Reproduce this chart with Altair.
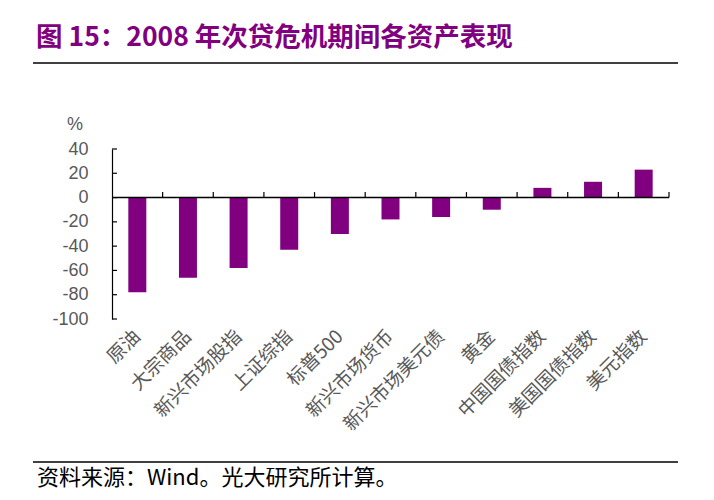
import altair as alt
import pandas as pd

categories = ["原油", "大宗商品", "新兴市场股指", "上证综指", "标普500", "新兴市场货币",
              "新兴市场美元债", "黄金", "中国国债指数", "美国国债指数", "美元指数"]
values = [-78, -66, -58, -43, -30, -18, -16, -10, 8, 13, 23]
y_ticks = [-100, -80, -60, -40, -20, 0, 20, 40]
title_text = "图 15：2008 年次贷危机期间各资产表现"
source_text = "资料来源：Wind。光大研究所计算。"
unit_text = "%"

PURPLE = "#800080"
GREY = "#595959"
W, H = 557, 170

df = pd.DataFrame({"cat": categories, "val": values})
xscale = alt.Scale(domain=categories, paddingInner=0, paddingOuter=0)
yscale = alt.Scale(domain=[-100, 40], nice=False, zero=False)

xaxis = alt.Axis(title=None, domain=False, ticks=False, labelAngle=-45,
                 labelAlign="right", labelBaseline="middle",
                 labelPadding=14, labelFontSize=19, labelColor=GREY,
                 labelFont="Noto Sans CJK SC", labelLimit=300)
yaxis = alt.Axis(title=None, values=y_ticks, domain=True, domainColor="black",
                 domainWidth=1.2, ticks=False, grid=False, labelPadding=24,
                 labelOverlap=False, labelFontSize=18, labelColor=GREY,
                 labelFont="Liberation Sans", labelExpr="datum.value + ''")

bars = alt.Chart(df).mark_bar(color=PURPLE, width=18).encode(
    x=alt.X("cat:N", scale=xscale, sort=categories, axis=xaxis),
    y=alt.Y("val:Q", scale=yscale, axis=yaxis),
)

zero_line = alt.Chart(pd.DataFrame({"z": [0]})).mark_rule(color="black", strokeWidth=1.5).encode(
    y=alt.Y("z:Q", scale=yscale, axis=yaxis), x=alt.value(0), x2=alt.value(W))

tick_df = pd.DataFrame({"cat": categories[1:], "y0": [0] * 10, "y1": [4.5] * 10})
xticks = alt.Chart(tick_df).mark_rule(color="black", strokeWidth=1.2).encode(
    x=alt.X("cat:N", scale=xscale, sort=categories, bandPosition=0, axis=xaxis),
    y=alt.Y("y0:Q", scale=yscale, axis=yaxis), y2="y1:Q")
end_df = pd.DataFrame({"cat": [categories[-1]], "y0": [0], "y1": [4.5]})
xtick_end = alt.Chart(end_df).mark_rule(color="black", strokeWidth=1.2).encode(
    x=alt.X("cat:N", scale=xscale, sort=categories, bandPosition=1, axis=xaxis),
    y=alt.Y("y0:Q", scale=yscale, axis=yaxis), y2="y1:Q")

ytick_df = pd.DataFrame({"v": y_ticks})
yticks = alt.Chart(ytick_df).mark_rule(color="black", strokeWidth=1.2).encode(
    y=alt.Y("v:Q", scale=yscale, axis=yaxis), x=alt.value(0), x2=alt.value(5))

def text_layer(txt, x, y, size, color, weight="normal", font="Noto Sans CJK SC", align="left"):
    return alt.Chart(pd.DataFrame({"t": [txt]})).mark_text(
        align=align, baseline="middle", fontSize=size, color=color,
        fontWeight=weight, font=font).encode(
        text="t:N", x=alt.value(x), y=alt.value(y))

title = text_layer(title_text, -76, -111, 26.5, PURPLE, weight="bold")
source = text_layer(source_text, -75, 329, 22, "black")
unit = text_layer(unit_text, -37, -24, 18, GREY, font="Liberation Sans", align="center")

def hline(y):
    return alt.Chart(pd.DataFrame({"a": [0]})).mark_rule(color="black", strokeWidth=1.5).encode(
        x=alt.value(-79), x2=alt.value(566), y=alt.value(y))

chart = alt.layer(bars, zero_line, xticks, xtick_end, yticks, title, source, unit,
                  hline(-86), hline(313)).properties(
    width=W, height=H,
    background="white",
    autosize=alt.AutoSizeParams(type="none"),
    padding={"left": 104, "top": 141, "right": 37, "bottom": 173},
).configure_view(strokeWidth=0, stroke="transparent")

chart.save("out.html", embed_options={"renderer": "svg", "actions": False})
